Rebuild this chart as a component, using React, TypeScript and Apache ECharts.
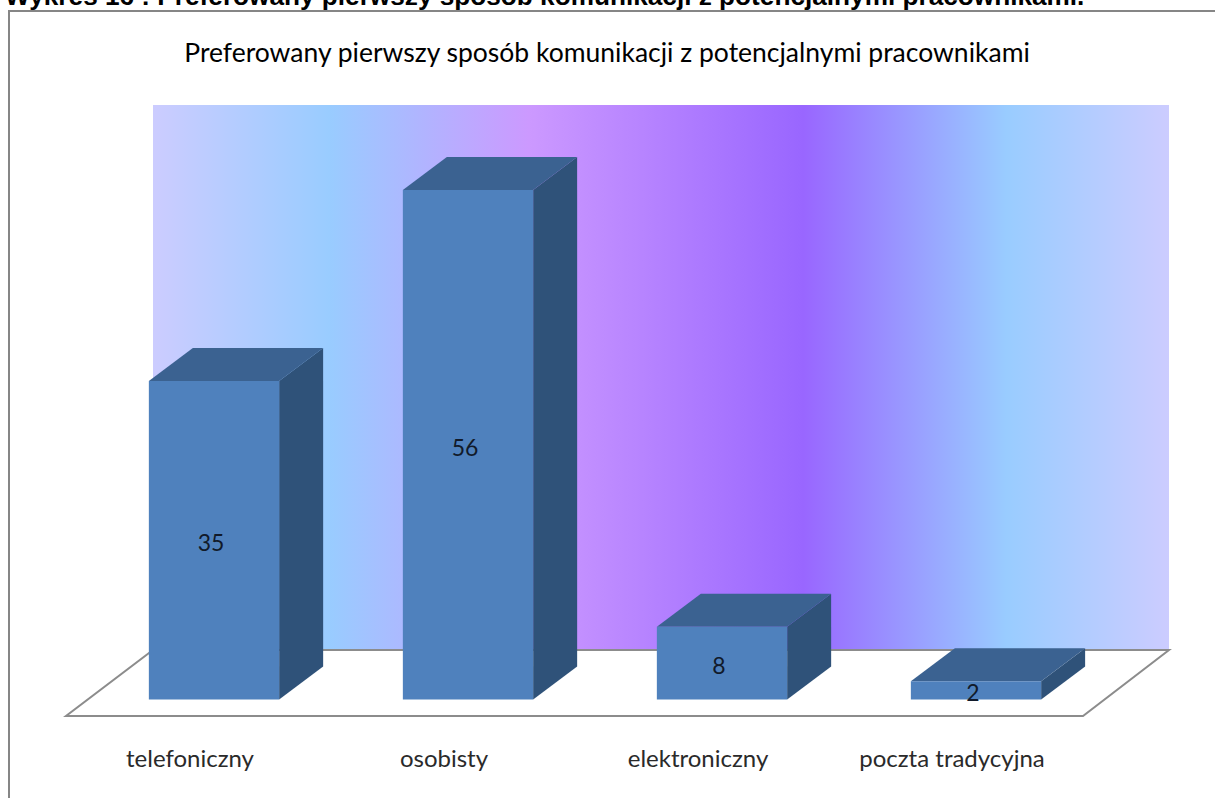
import React, { useEffect, useRef } from "react";
import * as echarts from "echarts";

const categories = ["telefoniczny", "osobisty", "elektroniczny", "poczta tradycyjna"];
const values = [35, 56, 8, 2];
const pageHeading = "Wykres 16 : Preferowany pierwszy sposób komunikacji z potencjalnymi pracownikami.";
const chartTitle = "Preferowany pierwszy sposób komunikacji z potencjalnymi pracownikami";

const FONT = "Lato, 'Open Sans', sans-serif";
const DEPTH_X = 44;
const DEPTH_Y = 33;

export default function App() {
  const ref = useRef<HTMLDivElement>(null);
  useEffect(() => {
    document.body.style.margin = "0";
    document.body.style.overflow = "hidden";
    const chart = echarts.init(ref.current!, undefined, { renderer: "svg" });
    chart.setOption({
      animation: false,
      backgroundColor: "#ffffff",
      grid: { left: 87, right: 112, top: 153.6, bottom: 98.6 },
      xAxis: {
        type: "category",
        data: categories,
        axisLine: { show: false },
        axisTick: { show: false },
        axisLabel: { color: "#2a2a2a", fontFamily: FONT, fontSize: 24, margin: 46, padding: [0, 48, 0, 0] },
      },
      yAxis: { type: "value", min: 0, max: 60, show: false, splitLine: { show: false } },
      graphic: [
        {
          type: "text", x: 5, y: -17, z: 10,
          style: { text: pageHeading, fill: "#000", font: "bold 26.2px 'Liberation Sans', Arial, sans-serif" },
        },
        {
          type: "rect", z: 0,
          shape: { x: 9, y: 11, width: 1300, height: 900 },
          style: { fill: "#fff", stroke: "#868686", lineWidth: 2 },
        },
        {
          type: "text", x: 607, y: 52, z: 10,
          style: { text: chartTitle, fill: "#000", font: `26.5px ${FONT}`, align: "center", verticalAlign: "middle" },
        },
        {
          type: "rect", z: 1,
          shape: { x: 153, y: 105, width: 1016, height: 545 },
          style: {
            fill: new echarts.graphic.LinearGradient(0, 0, 1, 0, [
              { offset: 0, color: "#CCCCFF" },
              { offset: 0.174, color: "#99CCFF" },
              { offset: 0.37, color: "#CC99FF" },
              { offset: 0.64, color: "#9966FF" },
              { offset: 0.84, color: "#99CCFF" },
              { offset: 1, color: "#CCCCFF" },
            ]),
          },
        },
        {
          type: "polygon", z: 1,
          shape: { points: [[153, 650], [1169, 650], [1083, 716], [66, 716]] },
          style: { fill: "#fff", stroke: "#8c8c8c", lineWidth: 2 },
        },
      ],
      series: [
        {
          type: "custom",
          data: values.map((v, i) => [i, v]),
          encode: { x: 0, y: 1 },
          renderItem: (_p: any, api: any) => {
            const cat = api.value(0);
            const val = api.value(1);
            const top = api.coord([cat, val]);
            const base = api.coord([cat, 0]);
            const w = api.size([1, 0])[0] * 0.513;
            const l = top[0] - w / 2;
            const r = top[0] + w / 2;
            const t = top[1];
            const b = base[1];
            return {
              type: "group",
              children: [
                {
                  type: "polygon",
                  shape: { points: [[r, t], [r + DEPTH_X, t - DEPTH_Y], [r + DEPTH_X, b - DEPTH_Y], [r, b]] },
                  style: { fill: "#2F5279" },
                },
                {
                  type: "polygon",
                  shape: { points: [[l, t], [l + DEPTH_X, t - DEPTH_Y], [r + DEPTH_X, t - DEPTH_Y], [r, t]] },
                  style: { fill: "#3B6291" },
                },
                {
                  type: "rect",
                  shape: { x: l, y: t, width: w, height: b - t },
                  style: { fill: "#4F81BD" },
                },
                {
                  type: "text",
                  x: top[0] - 3,
                  y: (t + b) / 2 + 2,
                  style: {
                    text: String(val), fill: "#111a2a", font: `23px ${FONT}`,
                    align: "center", verticalAlign: "middle",
                  },
                },
              ],
            };
          },
        },
      ],
    });
    return () => chart.dispose();
  }, []);
  return <div ref={ref} style={{ width: 1215, height: 798 }} />;
}
